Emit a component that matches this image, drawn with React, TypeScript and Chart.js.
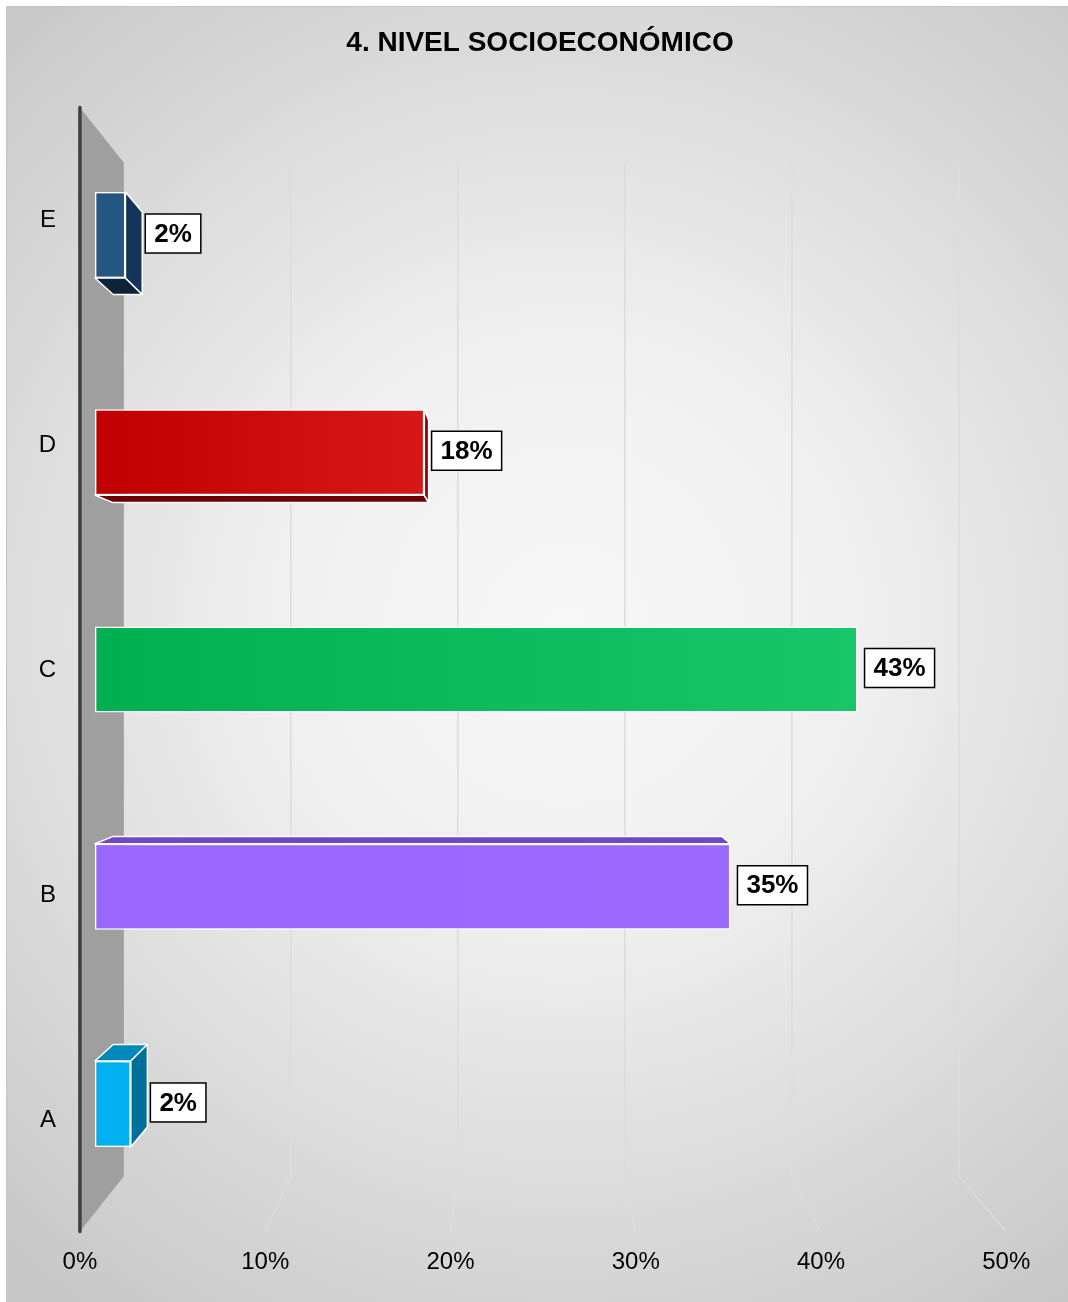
import React, { useEffect, useRef } from 'react';
import { Chart, registerables } from 'chart.js';

Chart.register(...registerables);

const TITLE = '4. NIVEL SOCIOECONÓMICO';
const CATEGORIES = ['A', 'B', 'C', 'D', 'E'];
const VALUES = [2.0, 35.5, 42.6, 18.4, 1.7];
const VALUE_LABELS = ['2%', '35%', '43%', '18%', '2%'];
const X_MIN = 0;
const X_MAX = 50;
const X_STEP = 10;

const FRONT_LEFT = ['#00b0f0', '#9966ff', '#00b050', '#c00000', '#245684'];
const FRONT_RIGHT = ['#00b0f0', '#9c6aff', '#17c668', '#d81818', '#245684'];
const SIDE_COLORS = ['#00709a', '#6a3fc4', '#008a3e', '#8c0000', '#15345a'];
const CAP_COLORS = ['#0089bb', '#6f48c9', '#009a45', '#6d0000', '#0e2238'];

const FONT = '"Liberation Sans", Arial, Helvetica, sans-serif';
// perspective depth factors relative to the bar front plane
const S_FRONT = 1.035;
const S_BACK = 0.933;
const S_BAR = 0.958;

function geom(chart: any) {
  const a = chart.chartArea;
  const vp = { x: a.left + (a.right - a.left) * 0.481, y: (a.top + a.bottom) / 2 };
  const proj = (x: number, y: number, s: number) => ({ x: vp.x + (x - vp.x) * s, y: vp.y + (y - vp.y) * s });
  return { a, vp, proj, xs: chart.scales.x };
}

const poly = (ctx: CanvasRenderingContext2D, pts: { x: number; y: number }[]) => {
  ctx.beginPath();
  pts.forEach((p, i) => (i ? ctx.lineTo(p.x, p.y) : ctx.moveTo(p.x, p.y)));
  ctx.closePath();
};

const scenePlugin = {
  id: 'scene',
  beforeDraw(chart: any) {
    const ctx = chart.ctx as CanvasRenderingContext2D;
    const w = chart.width;
    const h = chart.height;
    ctx.save();
    ctx.fillStyle = '#ffffff';
    ctx.fillRect(0, 0, w, h);
    const g = ctx.createRadialGradient(w * 0.53, h * 0.48, 0, w * 0.53, h * 0.48, w * 0.78);
    g.addColorStop(0, '#f8f8f8');
    g.addColorStop(0.35, '#f0f0f0');
    g.addColorStop(1, '#c8c8c8');
    ctx.fillStyle = g;
    ctx.fillRect(6, 6, w - 6, h - 6);
    ctx.strokeStyle = '#c4c4c4';
    ctx.lineWidth = 1;
    ctx.beginPath();
    ctx.moveTo(6.5, h);
    ctx.lineTo(6.5, 6.5);
    ctx.lineTo(w, 6.5);
    ctx.stroke();
    // title
    const a = chart.chartArea;
    ctx.fillStyle = '#000000';
    ctx.font = `bold 28px ${FONT}`;
    ctx.textAlign = 'center';
    ctx.textBaseline = 'middle';
    ctx.fillText(TITLE, w / 2 + 6, a.top - 83);
    ctx.restore();
  },
  beforeDatasetsDraw(chart: any) {
    const ctx = chart.ctx as CanvasRenderingContext2D;
    const { a, vp, proj, xs } = geom(chart);
    const x0 = xs.getPixelForValue(X_MIN);
    ctx.save();
    // side wall
    const wFT = proj(x0, a.top, S_FRONT);
    const wBT = proj(x0, a.top, S_BACK);
    const wBB = proj(x0, a.bottom, S_BACK);
    const wFB = proj(x0, a.bottom, S_FRONT);
    ctx.fillStyle = '#9f9f9f';
    poly(ctx, [wFT, wBT, wBB, wFB]);
    ctx.fill();
    // grid lines
    ctx.strokeStyle = '#dcdcdc';
    ctx.lineWidth = 1.5;
    for (let v = X_MIN + X_STEP; v <= X_MAX; v += X_STEP) {
      const px = xs.getPixelForValue(v);
      const t = proj(px, a.top, S_BACK);
      const b = proj(px, a.bottom, S_BACK);
      const f = proj(px, a.bottom, S_FRONT);
      ctx.beginPath();
      ctx.moveTo(t.x, t.y);
      ctx.lineTo(b.x, b.y);
      ctx.lineTo(f.x, f.y);
      ctx.stroke();
    }
    // axis line
    ctx.strokeStyle = '#3f3f3f';
    ctx.lineWidth = 3.5;
    ctx.lineCap = 'round';
    ctx.beginPath();
    ctx.moveTo(wFT.x, wFT.y);
    ctx.lineTo(wFB.x, wFB.y);
    ctx.stroke();
    // x tick labels on the front floor edge
    ctx.fillStyle = '#000000';
    ctx.font = `24px ${FONT}`;
    ctx.textAlign = 'center';
    ctx.textBaseline = 'middle';
    for (let v = X_MIN; v <= X_MAX; v += X_STEP) {
      const f = proj(xs.getPixelForValue(v), a.bottom, S_FRONT);
      ctx.fillText(`${v}%`, f.x, f.y + 31);
    }
    // category labels on the front plane
    const ys = chart.scales.y;
    ctx.textAlign = 'right';
    CATEGORIES.forEach((c, i) => {
      const p = proj(x0, ys.getPixelForValue(i), S_FRONT);
      ctx.fillText(c, 56, p.y + 1);
    });
    // 3D bar faces
    const meta = chart.getDatasetMeta(0);
    ctx.lineWidth = 1.5;
    ctx.lineJoin = 'round';
    ctx.strokeStyle = '#ffffff';
    meta.data.forEach((el: any, i: number) => {
      const p = el.getProps(['x', 'y', 'base', 'height'], true);
      const bx0 = Math.min(p.base, p.x);
      const bx1 = Math.max(p.base, p.x);
      const y0 = p.y - p.height / 2;
      const y1 = p.y + p.height / 2;
      const FTL = { x: bx0, y: y0 }, FTR = { x: bx1, y: y0 }, FBR = { x: bx1, y: y1 }, FBL = { x: bx0, y: y1 };
      const BTL = proj(bx0, y0, S_BAR), BTR = proj(bx1, y0, S_BAR), BBR = proj(bx1, y1, S_BAR), BBL = proj(bx0, y1, S_BAR);
      if (y0 > vp.y) {
        ctx.fillStyle = CAP_COLORS[i];
        poly(ctx, [FTL, BTL, BTR, FTR]);
        ctx.fill();
        ctx.stroke();
      }
      if (y1 < vp.y) {
        ctx.fillStyle = CAP_COLORS[i];
        poly(ctx, [FBL, BBL, BBR, FBR]);
        ctx.fill();
        ctx.stroke();
      }
      if (bx1 < vp.x) {
        ctx.fillStyle = SIDE_COLORS[i];
        poly(ctx, [FTR, BTR, BBR, FBR]);
        ctx.fill();
        ctx.stroke();
      }
    });
    ctx.restore();
  },
  afterDatasetsDraw(chart: any) {
    const ctx = chart.ctx as CanvasRenderingContext2D;
    const { proj, vp } = geom(chart);
    const meta = chart.getDatasetMeta(0);
    ctx.save();
    ctx.font = `bold 26px ${FONT}`;
    ctx.textBaseline = 'middle';
    ctx.textAlign = 'center';
    meta.data.forEach((el: any, i: number) => {
      const p = el.getProps(['x', 'y', 'base', 'height'], true);
      const y0 = p.y - p.height / 2;
      const y1 = p.y + p.height / 2;
      const backR = Math.max(proj(p.x, y0, S_BAR).x, proj(p.x, y1, S_BAR).x);
      const left = p.x < vp.x ? backR + 3 : p.x + 7;
      const text = VALUE_LABELS[i];
      const tw = ctx.measureText(text).width;
      const bw = tw + 18;
      const bh = 39;
      const cy = p.y - 1.5;
      ctx.fillStyle = '#ffffff';
      ctx.fillRect(left, cy - bh / 2, bw, bh);
      ctx.strokeStyle = '#000000';
      ctx.lineWidth = 1.5;
      ctx.strokeRect(left, cy - bh / 2, bw, bh);
      ctx.fillStyle = '#000000';
      ctx.fillText(text, left + bw / 2, cy + 1);
    });
    ctx.restore();
  },
};

export default function App() {
  const ref = useRef<HTMLCanvasElement>(null);
  useEffect(() => {
    if (!ref.current) return;
    const chart = new Chart(ref.current, {
      type: 'bar',
      data: {
        labels: CATEGORIES,
        datasets: [
          {
            data: VALUES,
            backgroundColor: (c: any) => {
              const ch = c.chart;
              const xs = ch.scales && ch.scales.x;
              const i = c.dataIndex ?? 0;
              if (!xs || !ch.chartArea || c.raw == null) return FRONT_LEFT[i];
              const g = ch.ctx.createLinearGradient(xs.getPixelForValue(0), 0, xs.getPixelForValue(c.raw), 0);
              g.addColorStop(0, FRONT_LEFT[i]);
              g.addColorStop(1, FRONT_RIGHT[i]);
              return g;
            },
            borderColor: '#ffffff',
            borderWidth: 1.5,
            borderSkipped: false,
            barPercentage: 0.396,
            categoryPercentage: 1,
          },
        ],
      },
      options: {
        indexAxis: 'y',
        responsive: false,
        animation: false,
        devicePixelRatio: 1,
        layout: { padding: { top: 126.4, left: 0, right: 78, bottom: 89.4 } },
        plugins: {
          legend: { display: false },
          tooltip: { enabled: false },
          title: { display: false },
        },
        scales: {
          x: { display: false, min: X_MIN, max: X_MAX },
          y: {
            reverse: true,
            grid: { display: false, drawTicks: false },
            border: { display: false },
            ticks: { display: false },
            afterFit: (s: any) => {
              s.width = 95;
            },
          },
        },
      },
      plugins: [scenePlugin],
    } as any);
    return () => chart.destroy();
  }, []);
  return (
    <canvas
      ref={ref}
      width={1068}
      height={1302}
      style={{ position: 'absolute', left: 0, top: 0, width: 1068, height: 1302 }}
    />
  );
}
